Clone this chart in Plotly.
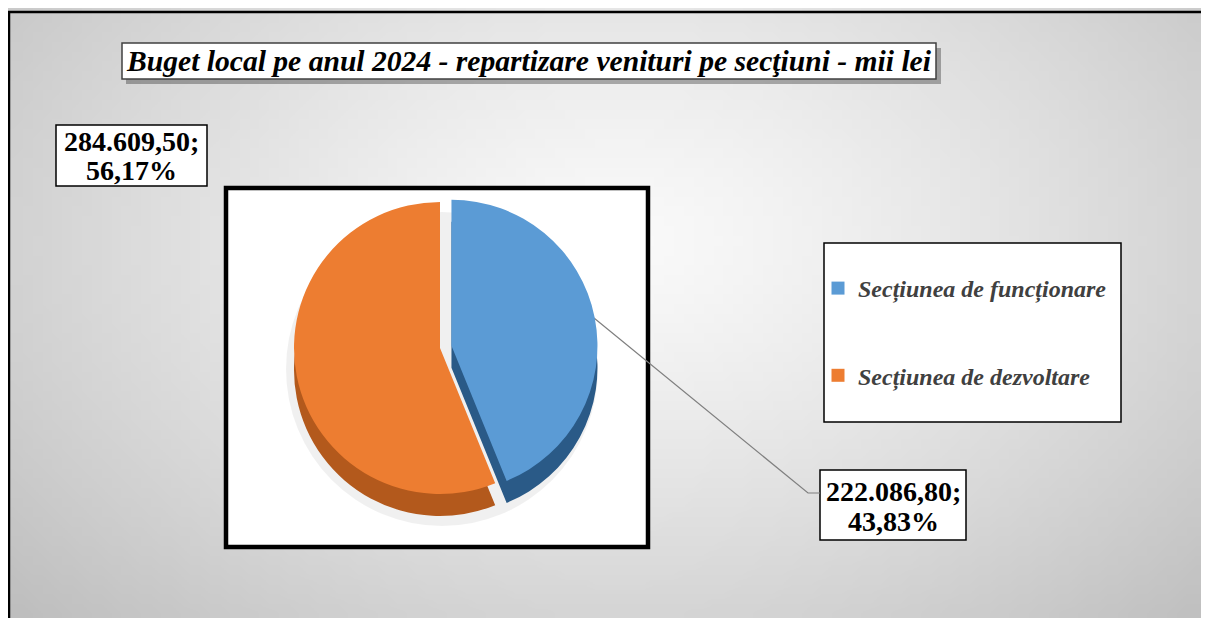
import base64
import struct
import zlib

import numpy as np
import plotly.graph_objects as go

# ---------------- data ----------------
categories = ["Secțiunea de funcționare", "Secțiunea de dezvoltare"]
values = [222086.80, 284609.50]
colors = ["#5B9BD5", "#ED7D31"]
side_colors = ["#2A5A87", "#B3591C"]
title_text = "Buget local pe anul 2024 - repartizare venituri pe secţiuni - mii lei"

# figure size (the page body adds an 8px margin around it)
W, H = 1193, 610
OFF = 8


def px(x):
    return (x - OFF) / W


def py(y):
    return 1 - (y - OFF) / H


def ro_number(v):
    s = f"{v:,.2f}"
    return s.replace(",", "X").replace(".", ",").replace("X", ".")


def ro_pct(v, tot):
    return f"{v / tot * 100:.2f}".replace(".", ",") + "%"


total = sum(values)


# ---------------- background gradient image ----------------
def make_png(rows, w, h):
    raw = b"".join(b"\x00" + bytes(r) for r in rows)

    def chunk(t, d):
        c = struct.pack(">I", len(d)) + t + d
        return c + struct.pack(">I", zlib.crc32(t + d) & 0xFFFFFFFF)

    return (b"\x89PNG\r\n\x1a\n"
            + chunk(b"IHDR", struct.pack(">IIBBBBB", w, h, 8, 0, 0, 0, 0))
            + chunk(b"IDAT", zlib.compress(raw))
            + chunk(b"IEND", b""))


gw, gh = 121, 63
gx = np.linspace(OFF, OFF + W, gw)
gy = np.linspace(OFF, OFF + H, gh)
XX, YY = np.meshgrid(gx, gy)
dd = np.sqrt(((XX - 620) / 640) ** 2 + ((YY - 240) / 420) ** 2)
vv = 250 - 42 * np.clip(dd, 0, 1.35) ** 1.3
rows = [[int(v) for v in r] for r in vv]
bg_uri = "data:image/png;base64," + base64.b64encode(make_png(rows, gw, gh)).decode()

# ---------------- pie geometry (reference pixel coords) ----------------
cx, cy, r, pull, depth = 440, 348, 146, 0.08, 22
half = r * (1 + pull)

fig = go.Figure()

# side (3D thickness) of the pie
fig.add_trace(go.Pie(
    labels=categories, values=values, sort=False, direction="clockwise", rotation=0,
    pull=[pull, 0], marker=dict(colors=side_colors, line=dict(width=0)),
    textinfo="none", hoverinfo="skip", showlegend=False,
    domain=dict(x=[px(cx - half), px(cx + half)],
                y=[py(cy + depth + half), py(cy + depth - half)]),
))
# top face
fig.add_trace(go.Pie(
    labels=categories, values=values, sort=False, direction="clockwise", rotation=0,
    pull=[pull, 0], marker=dict(colors=colors, line=dict(width=0)),
    textinfo="none", hovertemplate="%{label}: %{value}<extra></extra>", showlegend=False,
    domain=dict(x=[px(cx - half), px(cx + half)],
                y=[py(cy + half), py(cy - half)]),
))

# legend entries
for cat, col in zip(categories, colors):
    fig.add_trace(go.Scatter(
        x=[None], y=[None], mode="markers", name=f"<b><i>{cat}</i></b>", legendgroup=cat,
        marker=dict(symbol="square", size=13, color=col),
        hoverinfo="skip",
    ))

shapes = []
# outer frame
shapes.append(dict(type="rect", xref="paper", yref="paper", x0=px(9), x1=px(1230),
                   y0=py(650), y1=py(12), line=dict(color="black", width=2.5),
                   fillcolor="rgba(0,0,0,0)", layer="below"))
# inner plot box
shapes.append(dict(type="rect", xref="paper", yref="paper", x0=px(226), x1=px(648),
                   y0=py(547), y1=py(188), line=dict(color="black", width=4.5),
                   fillcolor="white", layer="below"))
# soft shadow under pie
shapes.append(dict(type="circle", xref="paper", yref="paper", x0=px(cx - r - 8), x1=px(cx + r + 12),
                   y0=py(cy + r + depth + 10), y1=py(cy - r + 10),
                   line=dict(width=0), fillcolor="rgba(0,0,0,0.06)", layer="below"))
# title shadow + box
shapes.append(dict(type="rect", xref="paper", yref="paper", x0=px(126), x1=px(941),
                   y0=py(84), y1=py(48), line=dict(width=0),
                   fillcolor="rgba(0,0,0,0.30)", layer="below"))
shapes.append(dict(type="rect", xref="paper", yref="paper", x0=px(122), x1=px(936),
                   y0=py(79), y1=py(43), line=dict(color="#404040", width=1.5),
                   fillcolor="white", layer="below"))
# label boxes
shapes.append(dict(type="rect", xref="paper", yref="paper", x0=px(56), x1=px(207),
                   y0=py(186), y1=py(125), line=dict(color="black", width=1.5),
                   fillcolor="white", layer="below"))
shapes.append(dict(type="rect", xref="paper", yref="paper", x0=px(820), x1=px(966),
                   y0=py(540), y1=py(470), line=dict(color="black", width=1.5),
                   fillcolor="white", layer="below"))
# legend box
shapes.append(dict(type="rect", xref="paper", yref="paper", x0=px(824), x1=px(1121),
                   y0=py(422), y1=py(243), line=dict(color="black", width=1.5),
                   fillcolor="white", layer="below"))
# leader line
shapes.append(dict(type="path", xref="paper", yref="paper",
                   path=f"M {px(594)},{py(318)} L {px(808)},{py(493)} L {px(820)},{py(493)}",
                   line=dict(color="#7F7F7F", width=1.2), layer="below"))

lab_font = dict(family="Liberation Serif", size=28, color="black")
annotations = [
    dict(text=f"<b><i>{title_text}</i></b>", x=px(529), y=py(61), xref="paper", yref="paper",
         showarrow=False, xanchor="center", yanchor="middle",
         font=dict(family="Liberation Serif", size=29.6, color="black")),
    dict(text=f"<b>{ro_number(values[1])};</b>", x=px(131.5), y=py(142), xref="paper",
         yref="paper", showarrow=False, xanchor="center", yanchor="middle", font=lab_font),
    dict(text=f"<b>{ro_pct(values[1], total)}</b>", x=px(131.5), y=py(170), xref="paper",
         yref="paper", showarrow=False, xanchor="center", yanchor="middle", font=lab_font),
    dict(text=f"<b>{ro_number(values[0])};</b>", x=px(893), y=py(491), xref="paper",
         yref="paper", showarrow=False, xanchor="center", yanchor="middle", font=lab_font),
    dict(text=f"<b>{ro_pct(values[0], total)}</b>", x=px(893), y=py(521), xref="paper",
         yref="paper", showarrow=False, xanchor="center", yanchor="middle", font=lab_font),
]

fig.update_layout(
    width=W, height=H, margin=dict(l=0, r=0, t=0, b=0),
    paper_bgcolor="#dcdcdc", plot_bgcolor="rgba(0,0,0,0)",
    xaxis=dict(visible=False, range=[0, 1]), yaxis=dict(visible=False, range=[0, 1]),
    images=[dict(source=bg_uri, xref="paper", yref="paper", x=0, y=1, sizex=1, sizey=1,
                 sizing="stretch", xanchor="left", yanchor="top", layer="below")],
    shapes=shapes, annotations=annotations,
    showlegend=True,
    legend=dict(x=px(818), y=py(266), xanchor="left", yanchor="top",
                bgcolor="rgba(0,0,0,0)", borderwidth=0, tracegroupgap=53,
                font=dict(family="Liberation Serif", size=24, color="#404040"),
                itemclick=False, itemdoubleclick=False),
)

fig.write_html("out.html")
